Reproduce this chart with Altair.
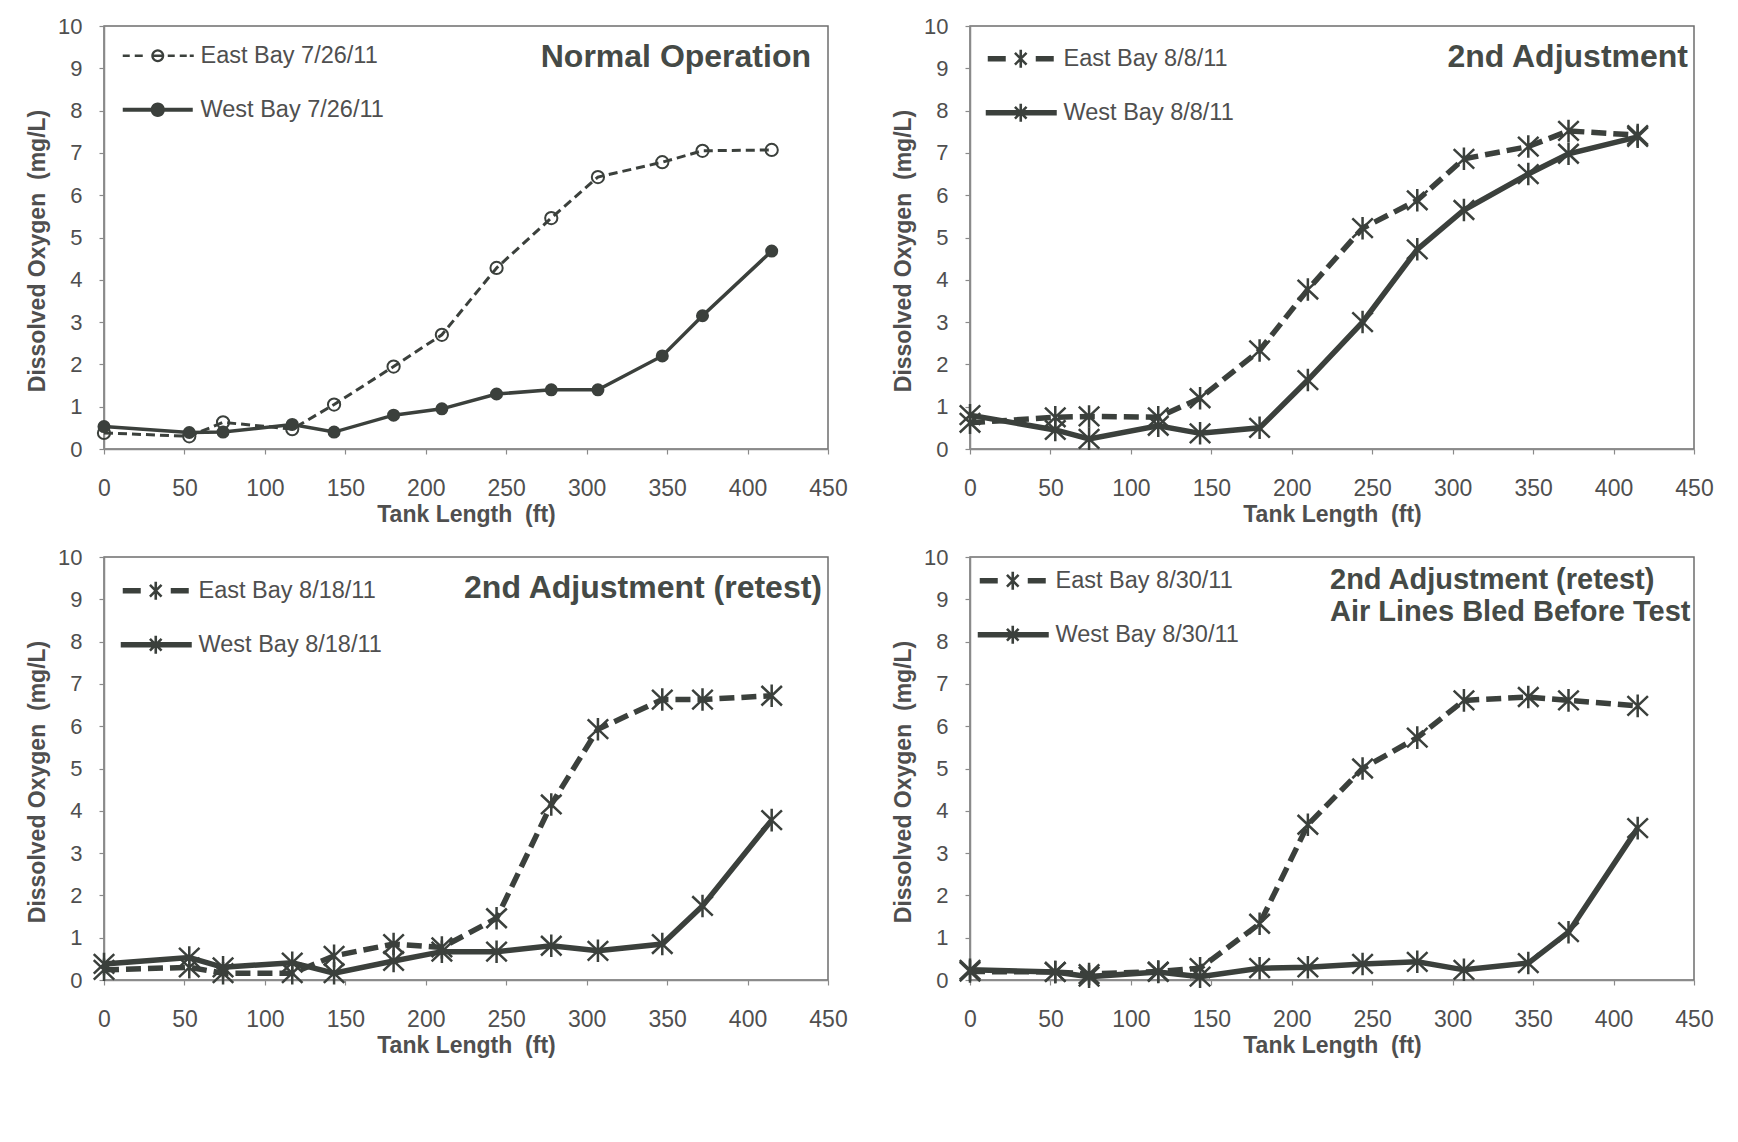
import math
import altair as alt
import pandas as pd

# ---------------- data ----------------
x_ft = [0, 53, 74, 117, 143, 180, 210, 244, 278, 307, 347, 372, 415]

p1_east = [0.38, 0.30, 0.63, 0.47, 1.05, 1.95, 2.70, 4.28, 5.46, 6.43, 6.78, 7.05, 7.07]
p1_west = [0.53, 0.39, 0.40, 0.58, 0.40, 0.80, 0.95, 1.30, 1.40, 1.40, 2.20, 3.15, 4.68]
p2_east = [0.62, 0.75, 0.77, 0.75, 1.20, 2.33, 3.77, 5.22, 5.88, 6.86, 7.15, 7.52, 7.42]
p2_west = [0.80, 0.45, 0.24, 0.55, 0.37, 0.50, 1.63, 3.00, 4.72, 5.65, 6.50, 6.98, 7.38]
p3_east = [0.24, 0.30, 0.16, 0.16, 0.57, 0.85, 0.77, 1.46, 4.15, 5.93, 6.63, 6.63, 6.72]
p3_west = [0.38, 0.53, 0.30, 0.41, 0.16, 0.45, 0.67, 0.67, 0.81, 0.69, 0.85, 1.75, 3.78]
p4_east = [0.20, 0.19, 0.14, 0.20, 0.28, 1.33, 3.67, 5.00, 5.73, 6.61, 6.69, 6.61, 6.48]
p4_west = [0.24, 0.19, 0.08, 0.19, 0.08, 0.28, 0.30, 0.38, 0.43, 0.24, 0.40, 1.13, 3.59]

series_names = [
    ("East Bay 7/26/11", "West Bay 7/26/11"),
    ("East Bay 8/8/11", "West Bay 8/8/11"),
    ("East Bay 8/18/11", "West Bay 8/18/11"),
    ("East Bay 8/30/11", "West Bay 8/30/11"),
]
panel_titles = [
    "Normal Operation",
    "2nd Adjustment",
    "2nd Adjustment (retest)",
    ["2nd Adjustment (retest)", "Air Lines Bled Before Test"],
]
x_ticks = [0, 50, 100, 150, 200, 250, 300, 350, 400, 450]
y_ticks = [0, 1, 2, 3, 4, 5, 6, 7, 8, 9, 10]

# ---------------- styling ----------------
DARK = "#3b403c"
TEXT = "#4f4f4f"
FONT = "Liberation Sans"
W, H = 724, 423


def poly(points):
    return "M" + "L".join(f"{x:.3f},{y:.3f}" for x, y in points) + "Z"


def rect(x0, x1, hw):
    return poly([(x0, -hw), (x1, -hw), (x1, hw), (x0, hw)])


def circle(r, n=28, reverse=False):
    pts = [(r * math.cos(2 * math.pi * i / n), r * math.sin(2 * math.pi * i / n)) for i in range(n)]
    if reverse:
        pts = pts[::-1]
    return poly(pts)


def bar(angle_deg, L, w):
    a = math.radians(angle_deg)
    d = (math.cos(a), math.sin(a))
    nrm = (-math.sin(a), math.cos(a))
    pts = [(u * d[0] + v * nrm[0], u * d[1] + v * nrm[1]) for (u, v) in [(-L, -w), (L, -w), (L, w), (-L, w)]]
    return poly(pts)


def star_fill(L, w):
    return bar(45, L, w) + bar(-45, L, w) + bar(90, L * 1.1, w)


# legend symbols (1 unit = 10 px with size 400)
leg_p1_east = (rect(-3.5, -2.8, 0.13) + rect(-2.3, -1.5, 0.13) + circle(0.65) + circle(0.42, reverse=True)
               + rect(-0.42, 0.42, 0.13) + rect(1.0, 1.7, 0.13) + rect(2.2, 2.9, 0.13) + rect(3.2, 3.6, 0.13))
leg_p1_west = rect(-3.5, 3.5, 0.2) + circle(0.72)
leg_east = rect(-3.3, -1.5, 0.28) + star_fill(0.82, 0.13) + rect(1.5, 3.3, 0.28)
leg_west = rect(-3.5, 3.6, 0.28) + star_fill(0.82, 0.13)

ASTERISK = "M-1,-0.95L1,0.95M-1,0.95L1,-0.95M0,-1.1L0,1.1"

legend_pos = [(42, 18), (39, 21), (40, 22), (31, 12)]
title_shift = [(-17, 63), (-6, 63), (-6, 63), (-364, 85)]


def make_panel(i, east_vals, west_vals):
    east, west = series_names[i]
    df = pd.DataFrame({
        "x": x_ft * 2,
        "y": east_vals + west_vals,
        "series": [east] * len(x_ft) + [west] * len(x_ft),
    })
    base = alt.Chart(df).encode(
        x=alt.X("x:Q", scale=alt.Scale(domain=[0, 450], nice=False),
                axis=alt.Axis(values=x_ticks, title="Tank Length\u00a0 (ft)")),
        y=alt.Y("y:Q", scale=alt.Scale(domain=[0, 10], nice=False),
                axis=alt.Axis(values=y_ticks, title="Dissolved Oxygen\u00a0 (mg/L)",
                              titleY=H / 2 + 13)),
    )
    if i == 0:
        east_line = base.transform_filter(alt.datum.series == east).mark_line(
            color=DARK, strokeWidth=3, strokeDash=[9, 5])
        west_line = base.transform_filter(alt.datum.series == west).mark_line(
            color=DARK, strokeWidth=3.5)
        east_pts = base.transform_filter(alt.datum.series == east).mark_point(
            shape="circle", filled=False, color=DARK, size=150, strokeWidth=2, opacity=1)
        west_pts = base.transform_filter(alt.datum.series == west).mark_point(
            shape="circle", filled=True, color=DARK, size=170, opacity=1)
        leg_range = [leg_p1_east, leg_p1_west]
    else:
        east_line = base.transform_filter(alt.datum.series == east).mark_line(
            color=DARK, strokeWidth=5.5, strokeDash=[15, 7])
        west_line = base.transform_filter(alt.datum.series == west).mark_line(
            color=DARK, strokeWidth=5.5)
        east_pts = base.transform_filter(alt.datum.series == east).mark_point(
            shape=ASTERISK, filled=False, color=DARK, size=420, strokeWidth=2.5, opacity=1)
        west_pts = base.transform_filter(alt.datum.series == west).mark_point(
            shape=ASTERISK, filled=False, color=DARK, size=420, strokeWidth=2.5, opacity=1)
        leg_range = [leg_east, leg_west]

    lx, ly = legend_pos[i]
    legend_layer = base.transform_filter(alt.datum.x < -1).mark_point(
        filled=True, color=DARK, strokeWidth=0, opacity=1, size=400
    ).encode(
        shape=alt.Shape("series:N",
                        scale=alt.Scale(domain=[east, west], range=leg_range),
                        legend=alt.Legend(title=None, orient="none", legendX=lx, legendY=ly,
                                          symbolSize=400, symbolFillColor=DARK, symbolStrokeWidth=0,
                                          symbolOpacity=1, labelFont=FONT, labelFontSize=23.5,
                                          labelColor=TEXT, labelOffset=31, rowPadding=29,
                                          labelLimit=0))
    )

    dx, dy = title_shift[i]
    if i == 3:
        tparams = alt.TitleParams(text=panel_titles[i], dx=dx, dy=dy, align="left",
                                  fontSize=29, lineHeight=32)
    else:
        tparams = alt.TitleParams(text=panel_titles[i], dx=dx, dy=dy)

    return alt.layer(east_line, west_line, east_pts, west_pts, legend_layer).properties(
        width=W, height=H, title=tparams)


p1 = make_panel(0, p1_east, p1_west)
p2 = make_panel(1, p2_east, p2_west)
p3 = make_panel(2, p3_east, p3_west)
p4 = make_panel(3, p4_east, p4_west)

chart = alt.concat(
    p1, p2, p3, p4, columns=2, spacing={"row": 108, "column": 142}, bounds="flush"
).resolve_scale(
    shape="independent"
).properties(
    padding={"left": 17, "top": 6, "right": 5, "bottom": 5},
    background="white",
).configure_axis(
    labelFont=FONT, titleFont=FONT, labelColor=TEXT, titleColor=TEXT,
    domainColor="#8a8a8a", tickColor="#8a8a8a", domainWidth=1.5, tickWidth=1.2,
    grid=False, titleFontWeight="bold", titleFontSize=23, labelFontSize=22, tickSize=5,
    labelFlush=False,
).configure_axisX(
    labelPadding=23, titlePadding=3, labelFontSize=23,
).configure_axisY(
    labelPadding=17, titlePadding=8,
).configure_view(
    stroke="#6e6e6e", strokeWidth=1.5,
).configure_title(
    font=FONT, fontSize=32, fontWeight="bold", color="#454a46", anchor="end",
    frame="group", offset=0,
)

chart.save("out.html", embed_options={"renderer": "svg", "actions": False})
